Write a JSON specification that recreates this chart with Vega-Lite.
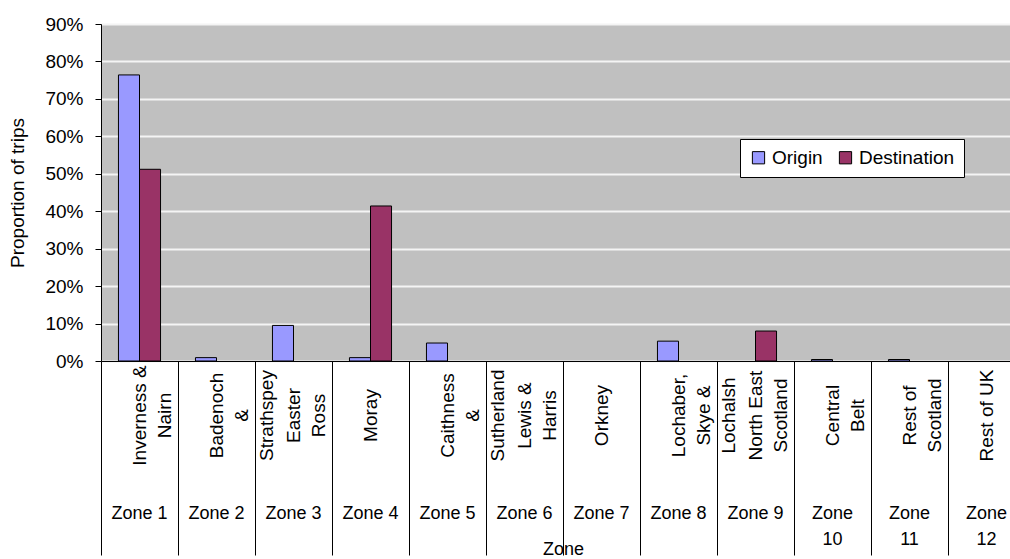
{
  "$schema": "https://vega.github.io/schema/vega-lite/v6.json",
  "width": 909,
  "height": 337,
  "autosize": {"type": "none"},
  "padding": {"left": 101, "top": 24, "right": 0, "bottom": 198},
  "background": "white",
  "config": {
    "view": {"fill": "#C0C0C0", "stroke": null},
    "font": "Liberation Sans"
  },
  "data": {
    "values": [
      {"zone": "Zone 1", "series": "Origin", "value": 0.764},
      {"zone": "Zone 1", "series": "Destination", "value": 0.512},
      {"zone": "Zone 2", "series": "Origin", "value": 0.009},
      {"zone": "Zone 3", "series": "Origin", "value": 0.095},
      {"zone": "Zone 4", "series": "Origin", "value": 0.009},
      {"zone": "Zone 4", "series": "Destination", "value": 0.414},
      {"zone": "Zone 5", "series": "Origin", "value": 0.048},
      {"zone": "Zone 8", "series": "Origin", "value": 0.053},
      {"zone": "Zone 9", "series": "Destination", "value": 0.080},
      {"zone": "Zone 10", "series": "Origin", "value": 0.004},
      {"zone": "Zone 11", "series": "Origin", "value": 0.004}
    ]
  },
  "encoding": {
    "xOffset": {
      "field": "series",
      "type": "nominal",
      "sort": ["Origin", "Destination"],
      "scale": {"domain": ["Origin", "Destination"], "paddingInner": 0, "paddingOuter": 0.83}
    },
    "y": {
      "field": "value",
      "type": "quantitative",
      "scale": {"domain": [0, 0.9], "nice": false},
      "axis": {
        "orient": "left",
        "title": "Proportion of trips",
        "titleFontSize": 19,
        "titleFontWeight": "normal",
        "titleColor": "black",
        "titlePadding": 17,
        "format": ".0%",
        "values": [0, 0.1, 0.2, 0.3, 0.4, 0.5, 0.6, 0.7, 0.8, 0.9],
        "labelFontSize": 19,
        "labelColor": "black",
        "labelPadding": 12,
        "tickSize": 6,
        "tickColor": "black",
        "domainColor": "black",
        "grid": true,
        "gridColor": "#F4F4F4",
        "gridWidth": 2
      }
    }
  },
  "layer": [
    {
      "mark": {"type": "bar", "stroke": "black", "strokeWidth": 1},
      "encoding": {
        "x": {
          "field": "zone",
          "type": "nominal",
          "sort": ["Zone 1", "Zone 2", "Zone 3", "Zone 4", "Zone 5", "Zone 6", "Zone 7", "Zone 8", "Zone 9", "Zone 10", "Zone 11", "Zone 12"],
          "scale": {"domain": ["Zone 1", "Zone 2", "Zone 3", "Zone 4", "Zone 5", "Zone 6", "Zone 7", "Zone 8", "Zone 9", "Zone 10", "Zone 11", "Zone 12"], "range": [0, 924], "paddingInner": 0, "paddingOuter": 0},
          "axis": {
            "orient": "bottom",
            "title": null,
            "domain": true,
            "domainColor": "black",
            "domainWidth": 1,
            "ticks": true,
            "tickBand": "extent",
            "tickSize": 194,
            "tickColor": "black",
            "tickWidth": 1,
            "labelAngle": 270,
            "labelAlign": "center",
            "labelBaseline": "middle",
            "labelPadding": -140,
            "labelFontSize": 19,
            "labelColor": "black",
            "labelLineHeight": 25,
            "labelOverlap": false,
            "labelLimit": 0,
            "zindex": 1,
            "labelExpr": "{'Zone 1': ['Inverness &', 'Nairn'], 'Zone 2': ['Badenoch', '&', 'Strathspey'], 'Zone 3': ['Easter', 'Ross'], 'Zone 4': 'Moray', 'Zone 5': ['Caithness', '&', 'Sutherland'], 'Zone 6': ['Lewis &', 'Harris'], 'Zone 7': 'Orkney', 'Zone 8': ['Lochaber,', 'Skye &', 'Lochalsh'], 'Zone 9': ['North East', 'Scotland'], 'Zone 10': ['Central', 'Belt'], 'Zone 11': ['Rest of', 'Scotland'], 'Zone 12': 'Rest of UK'}[datum.value]"
          }
        },
        "color": {
          "field": "series",
          "type": "nominal",
          "sort": ["Origin", "Destination"],
          "scale": {"domain": ["Origin", "Destination"], "range": ["#9999FF", "#993366"]},
          "legend": {
            "title": null,
            "orient": "none",
            "legendX": 639,
            "legendY": 115,
            "direction": "horizontal",
            "fillColor": "white",
            "strokeColor": "black",
            "padding": 9,
            "symbolType": "square",
            "symbolSize": 150,
            "symbolStrokeColor": "black",
            "symbolStrokeWidth": 1,
            "symbolOpacity": 1,
            "labelFontSize": 19,
            "labelColor": "black",
            "labelOffset": 4,
            "columnPadding": 13
          }
        }
      }
    },
    {
      "mark": {"type": "bar", "opacity": 0},
      "encoding": {
        "x": {
          "field": "zone",
          "type": "nominal",
          "sort": ["Zone 1", "Zone 2", "Zone 3", "Zone 4", "Zone 5", "Zone 6", "Zone 7", "Zone 8", "Zone 9", "Zone 10", "Zone 11", "Zone 12"],
          "axis": {
            "orient": "bottom",
            "title": "Zone",
            "titleFontSize": 18,
            "titleFontWeight": "normal",
            "titleColor": "black",
            "titleY": 197,
            "titleBaseline": "bottom",
            "domain": false,
            "ticks": false,
            "labelPadding": 143,
            "labelBaseline": "top",
            "labelAngle": 0,
            "labelAlign": "center",
            "labelFontSize": 18,
            "labelColor": "black",
            "labelLineHeight": 26,
            "labelOverlap": false,
            "labelExpr": "length(datum.value) > 6 ? split(datum.value, ' ') : datum.value"
          }
        }
      }
    }
  ],
  "resolve": {"axis": {"x": "independent"}}
}
